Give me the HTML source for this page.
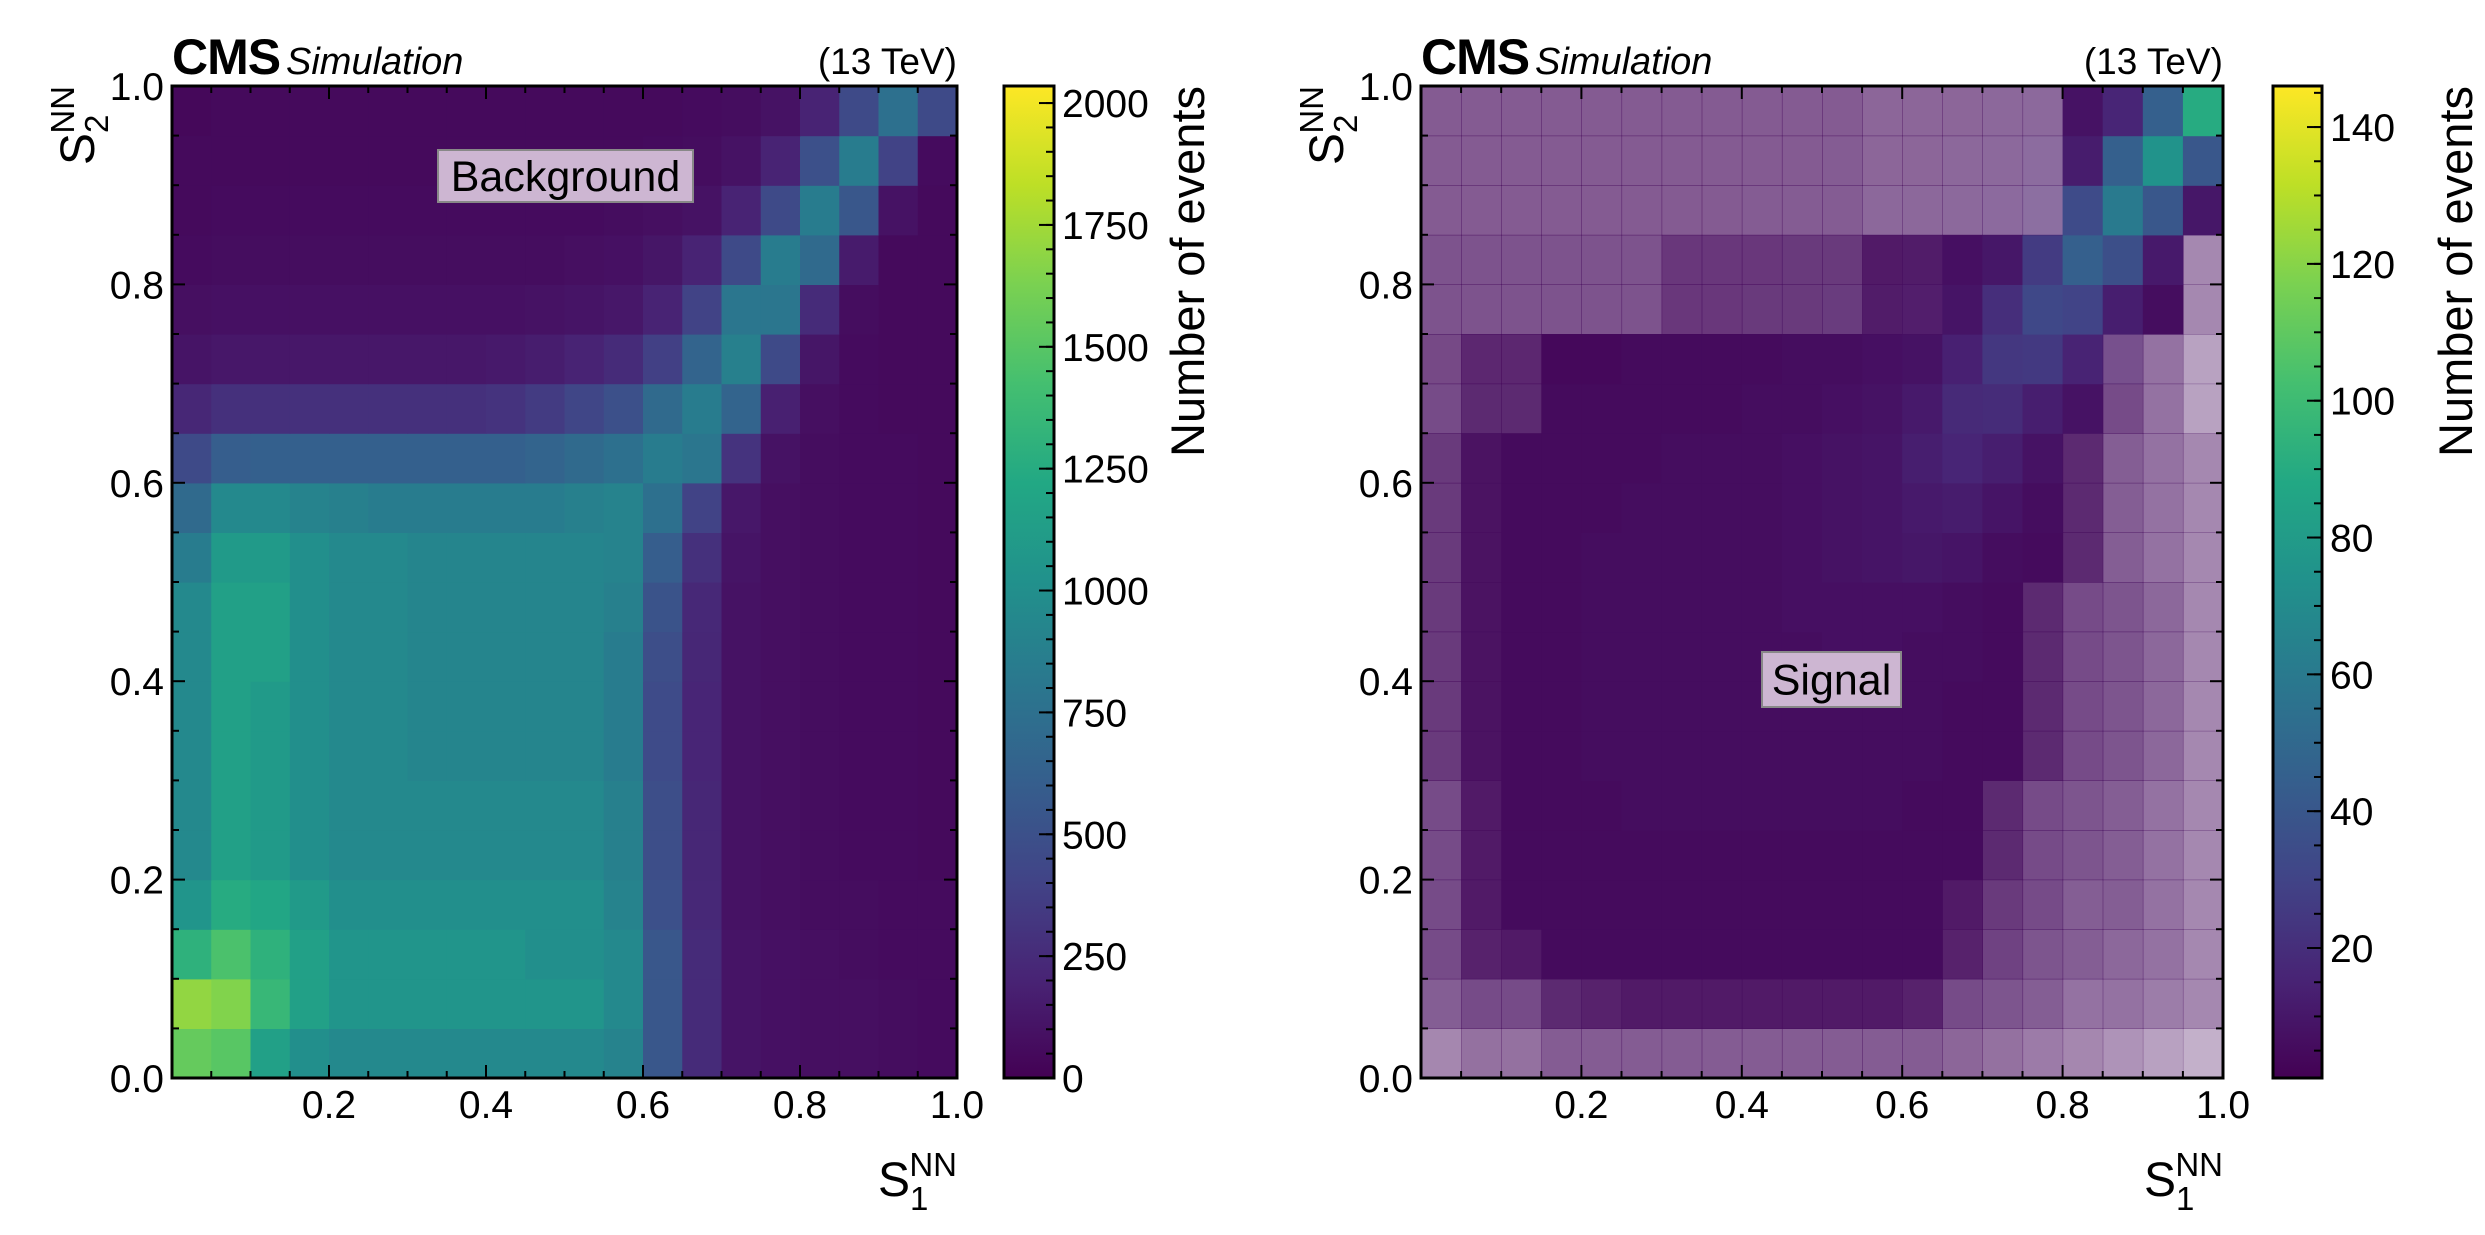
<!DOCTYPE html>
<html><head><meta charset="utf-8"><style>
html,body{margin:0;padding:0;background:#fff;}
svg{display:block;font-family:"Liberation Sans",Arial,sans-serif;}
</style></head><body>
<svg id="root" width="2485" height="1235" viewBox="0 0 2485 1235" xmlns="http://www.w3.org/2000/svg"></svg>
<script>
// ---------- data ----------
const xEdges = [0,0.05,0.1,0.15,0.2,0.25,0.3,0.35,0.4,0.45,0.5,0.55,0.6,0.65,0.7,0.75,0.8,0.85,0.9,0.95,1.0];
const axisTicks = [0.0,0.2,0.4,0.6,0.8,1.0];
const axisTickLabels = ["0.0","0.2","0.4","0.6","0.8","1.0"];
const bgCbarTicks = [0,250,500,750,1000,1250,1500,1750,2000];
const sigCbarTicks = [20,40,60,80,100,120,140];
const bgRange = [0,2035];
const sigRange = [1,146];
// background counts, row 0 = S2 in [0,0.05)
const bgValues = [
[1550,1500,1150,1000,950,950,950,950,950,950,950,900,550,250,110,90,80,80,70,60],
[1700,1650,1350,1150,1050,1050,1050,1050,1050,1050,1050,950,550,250,110,90,80,80,70,60],
[1300,1450,1300,1150,1050,1050,1050,1050,1050,1000,1000,950,550,250,110,90,80,70,60,60],
[1050,1250,1200,1100,1000,1000,1000,1000,1000,1000,1000,900,500,230,100,80,70,70,60,60],
[950,1150,1100,1000,950,950,950,950,950,950,950,880,480,220,100,80,70,60,60,50],
[950,1150,1100,1000,950,950,950,950,950,950,950,880,480,220,100,80,70,60,60,50],
[950,1150,1100,1000,950,950,920,920,920,920,920,850,460,210,100,80,70,60,60,50],
[950,1150,1100,1000,950,950,920,920,920,920,920,850,460,210,100,80,70,60,60,50],
[950,1150,1150,1000,950,950,920,920,920,920,920,850,480,220,100,80,70,60,60,50],
[950,1150,1150,1000,950,950,920,920,920,920,920,880,520,230,100,80,70,60,60,50],
[850,1100,1100,1000,950,950,920,920,920,920,920,900,600,280,110,80,70,60,60,50],
[700,950,950,900,880,850,850,850,850,850,880,900,750,400,130,80,70,60,60,50],
[450,600,620,620,620,620,620,620,620,650,700,750,850,800,300,100,70,60,60,50],
[220,280,280,280,280,280,280,280,300,350,420,500,700,850,650,180,80,60,50,50],
[110,130,130,130,130,130,130,130,140,160,200,250,380,650,880,450,120,60,50,50],
[80,90,90,90,90,90,90,90,90,100,110,130,200,400,800,800,250,70,50,50],
[60,70,70,70,70,70,70,70,70,70,80,90,120,200,450,850,700,150,50,50],
[50,60,60,60,60,60,60,60,60,60,60,70,80,100,200,450,850,550,100,50],
[50,50,50,50,50,50,50,50,50,50,50,50,60,70,100,200,500,850,400,60],
[40,50,50,50,50,50,50,50,50,50,50,50,50,60,70,100,200,450,750,450]
];
// signal counts
const sigValues = [
[4,4,4,4,4,4,4,4,4,4,4,4,4,4,4,4,4,4,4,4],
[5,5,5,5,5,5,5,5,5,5,5,5,5,5,5,5,5,5,5,5],
[5,5,5,5,5,5,5,5,5,5,5,5,5,5,5,5,5,5,5,5],
[5,5,5,5,5,5,5,5,5,5,5,5,5,5,5,5,5,5,5,5],
[5,5,5,5,5,5,5,5,5,5,5,5,5,5,5,5,5,5,5,5],
[5,5,5,5,5,6,6,6,6,6,6,6,5,5,5,5,5,5,5,5],
[5,5,5,5,6,6,6,6,6,6,6,6,6,5,5,5,5,5,5,5],
[5,5,5,5,6,6,6,6,6,6,6,6,6,5,5,5,5,5,5,5],
[5,5,5,5,6,6,6,6,6,6,7,7,6,6,5,5,5,5,5,5],
[5,5,5,5,6,6,6,6,6,7,7,7,7,6,5,5,5,5,5,5],
[5,5,5,5,6,6,6,6,6,7,8,9,10,9,6,5,5,5,5,5],
[5,5,5,5,5,6,6,6,6,7,8,9,11,12,9,6,5,5,5,5],
[5,5,5,5,5,5,6,6,6,7,8,9,13,16,13,8,5,5,5,5],
[5,5,5,5,5,5,5,5,6,6,7,8,11,18,19,13,8,5,5,5],
[4,4,4,4,4,5,5,5,5,6,6,7,8,14,24,25,15,8,5,5],
[4,4,4,4,4,4,4,4,5,5,6,6,7,9,20,32,30,13,6,5],
[4,4,4,4,4,4,4,4,4,5,5,5,6,7,10,26,45,36,11,5],
[3,3,3,3,3,3,3,3,4,4,4,5,5,6,7,10,34,60,40,10],
[3,3,3,3,3,3,3,3,3,3,4,4,4,5,6,8,12,45,75,40],
[3,3,3,3,3,3,3,3,3,3,3,4,4,4,5,6,8,16,45,90]
];
// signal bin occupancy fraction (white speckle density)
const sigFill = [
[0.3,0.4,0.4,0.5,0.5,0.5,0.5,0.5,0.5,0.5,0.5,0.5,0.5,0.45,0.4,0.35,0.3,0.25,0.2,0.15],
[0.5,0.6,0.6,0.8,0.85,0.9,0.9,0.9,0.9,0.9,0.9,0.9,0.85,0.6,0.55,0.5,0.4,0.4,0.35,0.3],
[0.6,0.85,0.9,1,1,1,1,1,1,1,1,1,1,0.85,0.65,0.55,0.5,0.45,0.4,0.3],
[0.6,0.9,1,1,1,1,1,1,1,1,1,1,1,0.9,0.7,0.6,0.5,0.5,0.4,0.3],
[0.6,0.9,1,1,1,1,1,1,1,1,1,1,1,1,0.8,0.6,0.55,0.5,0.4,0.3],
[0.6,0.9,1,1,1,1,1,1,1,1,1,1,1,1,0.8,0.6,0.55,0.5,0.4,0.3],
[0.7,0.95,1,1,1,1,1,1,1,1,1,1,1,1,1,0.8,0.6,0.55,0.45,0.3],
[0.7,0.95,1,1,1,1,1,1,1,1,1,1,1,1,1,0.8,0.6,0.55,0.45,0.3],
[0.7,0.95,1,1,1,1,1,1,1,1,1,1,1,1,1,0.8,0.6,0.55,0.45,0.3],
[0.7,0.95,1,1,1,1,1,1,1,1,1,1,1,1,1,0.8,0.6,0.55,0.45,0.3],
[0.7,0.95,1,1,1,1,1,1,1,1,1,1,1,1,1,1,0.8,0.5,0.4,0.3],
[0.7,0.95,1,1,1,1,1,1,1,1,1,1,1,1,1,1,0.8,0.5,0.4,0.3],
[0.7,0.95,1,1,1,1,1,1,1,1,1,1,1,1,1,1,0.8,0.5,0.4,0.3],
[0.6,0.8,0.8,1,1,1,1,1,1,1,1,1,1,1,1,1,1,0.6,0.4,0.2],
[0.6,0.8,0.8,1,1,1,1,1,1,1,1,1,1,1,1,1,1,0.6,0.4,0.2],
[0.55,0.55,0.55,0.55,0.55,0.55,0.7,0.7,0.7,0.7,0.7,0.9,0.9,1,1,1,1,1,1,0.3],
[0.55,0.55,0.55,0.55,0.55,0.55,0.7,0.7,0.7,0.7,0.7,0.9,0.9,1,1,1,1,1,1,0.3],
[0.5,0.5,0.5,0.5,0.5,0.5,0.5,0.5,0.5,0.5,0.5,0.45,0.45,0.45,0.45,0.45,1,1,1,1],
[0.5,0.5,0.5,0.5,0.5,0.5,0.5,0.5,0.5,0.5,0.5,0.45,0.45,0.45,0.45,0.45,1,1,1,1],
[0.5,0.5,0.5,0.5,0.5,0.5,0.5,0.5,0.5,0.5,0.5,0.45,0.45,0.45,0.45,0.45,1,1,1,1]
];

// ---------- helpers ----------
const NS = "http://www.w3.org/2000/svg";
const root = document.getElementById('root');
function mk(tag, attrs, parent){
  const e = document.createElementNS(NS, tag);
  for (const k in attrs) e.setAttribute(k, attrs[k]);
  (parent||root).appendChild(e);
  return e;
}
const VIR = [[68,1,84],[72,36,117],[65,68,135],[53,95,141],[42,120,142],[33,145,140],[34,168,132],[68,191,112],[122,209,81],[189,223,38],[253,231,37]];
function viridis(t){
  t = Math.max(0, Math.min(1, t));
  const p = t*(VIR.length-1), i = Math.min(Math.floor(p), VIR.length-2), f = p-i;
  const c = VIR[i].map((v,k)=>Math.round(v+(VIR[i+1][k]-v)*f));
  return 'rgb('+c.join(',')+')';
}

function drawPanel(cfg){
  const {L,R,T,B,cbL,cbR,values,fill,range,cbTicks,cbMinor,name,label,boxX,boxY,boxW,boxH} = cfg;
  const g = mk('g', {});
  
  
  const sx = v => L + v*(R-L);
  const sy = v => B - v*(B-T);
  const cmap = v => viridis((v-range[0])/(range[1]-range[0]));
  const hm = mk('g', {}, g);
  
  
  for (let r=0;r<values.length;r++){
    for (let c=0;c<values[r].length;c++){
      const x0=sx(xEdges[c]), x1=sx(xEdges[c+1]), y0=sy(xEdges[r+1]), y1=sy(xEdges[r]);
      const rect = mk('rect', {x:x0, y:y0, width:x1-x0+0.6, height:y1-y0+0.6, fill:cmap(values[r][c])}, hm);
      if (fill) rect.setAttribute('fill-opacity', Math.pow(fill[r][c],0.6));
      
      
    }
  }
  const tk = mk('g', {stroke:'#000','stroke-width':2}, g);
  for (let i=0;i<=20;i++){
    const v = i*0.05, major = (i%4===0), len = major?13:7;
    mk('line',{x1:sx(v),x2:sx(v),y1:B,y2:B-len},tk);
    mk('line',{x1:sx(v),x2:sx(v),y1:T,y2:T+len},tk);
    mk('line',{x1:L,x2:L+len,y1:sy(v),y2:sy(v)},tk);
    mk('line',{x1:R,x2:R-len,y1:sy(v),y2:sy(v)},tk);
  }
  const fr = mk('rect',{x:L,y:T,width:R-L,height:B-T,fill:'none',stroke:'#000','stroke-width':3},g);
  
  
  axisTicks.forEach((v,i)=>{
    const ty = mk('text',{x:L-8,y:sy(v)+14,'font-size':39,'text-anchor':'end'},g);
    ty.textContent = axisTickLabels[i];
    
    
    if (i>0){
      const tx = mk('text',{x:sx(v),y:B+40,'font-size':39,'text-anchor':'middle'},g);
      tx.textContent = axisTickLabels[i];
      
      
    }
  });
  const xt = mk('text',{x:R,y:B+118,'font-size':48,'text-anchor':'end'},g);
  xt.innerHTML = 'S<tspan dy="14" font-size="33">1</tspan><tspan dy="-34" dx="-19" font-size="33">NN</tspan>';
  
  
  const yt = mk('text',{x:0,y:0,'font-size':48,'text-anchor':'end',transform:'translate('+(L-78)+','+T+') rotate(-90)'},g);
  yt.innerHTML = 'S<tspan dy="14" font-size="33">2</tspan><tspan dy="-34" dx="-19" font-size="33">NN</tspan>';
  
  
  const cms = mk('text',{x:L,y:T-12,'font-size':50,'font-weight':'bold','letter-spacing':'-1'},g);
  cms.textContent = 'CMS';
  
  
  const simu = mk('text',{x:L+114,y:T-12,'font-size':38,'font-style':'italic'},g);
  simu.textContent = 'Simulation';
  
  
  const lumi = mk('text',{x:R,y:T-12,'font-size':37,'text-anchor':'end'},g);
  lumi.textContent = '(13 TeV)';
  
  
  const bx = mk('rect',{x:boxX,y:boxY,width:boxW,height:boxH,fill:'#cdb6d2',stroke:'#888','stroke-width':2},g);
  
  
  const bt = mk('text',{x:boxX+boxW/2,y:boxY+boxH/2+15,'font-size':43,'text-anchor':'middle'},g);
  bt.textContent = label;
  
  
  const cb = mk('g',{},g);
  
  
  const gid = name+'-grad';
  const defs = mk('defs',{},cb);
  const lg = mk('linearGradient',{id:gid,x1:0,y1:1,x2:0,y2:0},defs);
  VIR.forEach((c,i)=>mk('stop',{offset:(i/(VIR.length-1)),'stop-color':'rgb('+c.join(',')+')'},lg));
  mk('rect',{x:cbL,y:T,width:cbR-cbL,height:B-T,fill:'url(#'+gid+')'},cb);
  const cy = v => B - (v-range[0])/(range[1]-range[0])*(B-T);
  const ctk = mk('g',{stroke:'#000','stroke-width':2},cb);
  cbMinor.forEach(v=>{ if (v>=range[0]&&v<=range[1]) mk('line',{x1:cbR,x2:cbR-8,y1:cy(v),y2:cy(v)},ctk); });
  cbTicks.forEach(v=>{
    mk('line',{x1:cbR,x2:cbR-15,y1:cy(v),y2:cy(v)},ctk);
    const t = mk('text',{x:cbR+8,y:cy(v)+14,'font-size':39},cb);
    t.textContent = String(v);
    
    
  });
  mk('rect',{x:cbL,y:T,width:cbR-cbL,height:B-T,fill:'none',stroke:'#000','stroke-width':3},cb);
  const ct = mk('text',{x:0,y:0,'font-size':47,'text-anchor':'end',transform:'translate('+(cbR+150)+','+T+') rotate(-90)'},cb);
  ct.textContent = 'Number of events';
  
  
}

const bgMinor = []; for (let v=0; v<=2050; v+=50) bgMinor.push(v);
const sigMinor = []; for (let v=5; v<=145; v+=5) sigMinor.push(v);

drawPanel({L:172,R:957,T:86,B:1078,cbL:1004,cbR:1054,values:bgValues,fill:null,range:bgRange,
  cbTicks:bgCbarTicks,cbMinor:bgMinor,name:'background',label:'Background',boxX:438,boxY:150,boxW:255,boxH:52});
drawPanel({L:1421,R:2223,T:86,B:1078,cbL:2273,cbR:2322,values:sigValues,fill:sigFill,range:sigRange,
  cbTicks:sigCbarTicks,cbMinor:sigMinor,name:'signal',label:'Signal',boxX:1762,boxY:652,boxW:139,boxH:55});
</script>
</body></html>
